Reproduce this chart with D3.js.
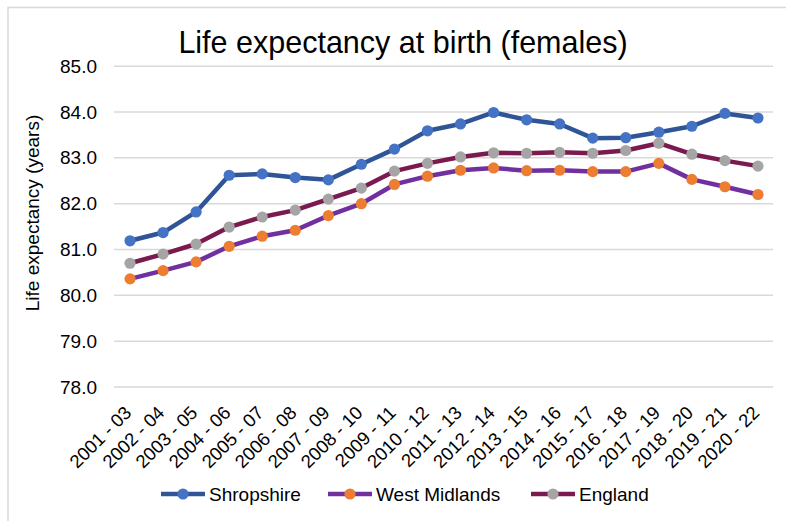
<!DOCTYPE html>
<html>
<head>
<meta charset="utf-8">
<script src="https://cdn.jsdelivr.net/npm/d3@7"></script>
<style>
  html, body { margin: 0; padding: 0; background: #fff; }
  svg { display: block; font-family: "Liberation Sans", Arial, sans-serif; }
</style>
</head>
<body>
<svg id="chart" width="790" height="521"></svg>
<script>
// Three-year rolling periods
const periods = ["2001 - 03", "2002 - 04", "2003 - 05", "2004 - 06", "2005 - 07",
  "2006 - 08", "2007 - 09", "2008 - 10", "2009 - 11", "2010 - 12", "2011 - 13",
  "2012 - 14", "2013 - 15", "2014 - 16", "2015 - 17", "2016 - 18", "2017 - 19",
  "2018 - 20", "2019 - 21", "2020 - 22"];

// Female life expectancy at birth (years)
const shropshire = [81.19, 81.37, 81.82, 82.62, 82.65, 82.57, 82.52, 82.86, 83.19, 83.59,
  83.74, 83.99, 83.83, 83.74, 83.43, 83.44, 83.56, 83.69, 83.97, 83.87];
const westMidlands = [80.36, 80.54, 80.73, 81.07, 81.29, 81.42, 81.74, 82.00, 82.42, 82.60,
  82.73, 82.78, 82.72, 82.73, 82.70, 82.70, 82.88, 82.53, 82.37, 82.20];
const england = [80.70, 80.90, 81.12, 81.49, 81.71, 81.86, 82.10, 82.34, 82.71, 82.88,
  83.02, 83.11, 83.10, 83.12, 83.10, 83.16, 83.32, 83.08, 82.94, 82.82];

const yTicks = [78, 79, 80, 81, 82, 83, 84, 85];

const seriesNames = ["Shropshire", "West Midlands", "England"];
const lineColors = ["#2F5597", "#7030A0", "#7A1A4E"];
const markerColors = ["#4472C4", "#ED7D31", "#A5A5A5"];

const series = [shropshire, westMidlands, england].map((values, i) => ({
  name: seriesNames[i], values, line: lineColors[i], marker: markerColors[i]
}));

const svg = d3.select("#chart");
const font = "\"Liberation Sans\", Arial, sans-serif";
const labelSize = 19;

// Chart frame (left and top edges)
svg.append("path")
  .attr("d", "M8,521 V7.5 H786")
  .attr("fill", "none")
  .attr("stroke", "#D9D9D9")
  .attr("stroke-width", 1.5);

const x = d3.scaleBand().domain(periods).range([113.5, 774.5]);
const y = d3.scaleLinear().domain([78, 85]).range([387, 66.2]);
const cx = d => x(d) + x.bandwidth() / 2;

// Horizontal gridlines
svg.append("g").selectAll("line").data(yTicks).join("line")
  .attr("x1", 114).attr("x2", 773)
  .attr("y1", d => y(d)).attr("y2", d => y(d))
  .attr("stroke", "#D9D9D9").attr("stroke-width", 1.5);

// Y axis labels
const yAxis = d3.axisLeft(y).tickValues(yTicks).tickFormat(d3.format(".1f"))
  .tickSize(0).tickPadding(0);
const gy = svg.append("g").attr("transform", "translate(97,0)").call(yAxis);
gy.select(".domain").remove();
gy.selectAll("text").attr("font-size", labelSize).attr("font-family", font).attr("fill", "#000");

// X axis labels, rotated 45 degrees and ending just right of each tick
const xAxis = d3.axisBottom(x).tickSize(0).tickPadding(0);
const gx = svg.append("g").attr("transform", "translate(0,414)").call(xAxis);
gx.select(".domain").remove();
gx.selectAll("text")
  .attr("font-size", 18.5).attr("font-family", font).attr("fill", "#000")
  .attr("text-anchor", "end")
  .attr("y", 0).attr("dy", 0)
  .attr("transform", "translate(2.5,0) rotate(-45)");

// Lines and markers
const line = d3.line().x((d, i) => cx(periods[i])).y(d => y(d));
series.forEach(s => {
  const g = svg.append("g");
  g.append("path")
    .attr("d", line(s.values))
    .attr("fill", "none")
    .attr("stroke", s.line)
    .attr("stroke-width", 4.5)
    .attr("stroke-linejoin", "round")
    .attr("stroke-linecap", "round");
  g.selectAll("circle").data(s.values).join("circle")
    .attr("cx", (d, i) => cx(periods[i]))
    .attr("cy", d => y(d))
    .attr("r", 5.6)
    .attr("fill", s.marker);
});

// Title
svg.append("text")
  .attr("x", 403).attr("y", 53)
  .attr("text-anchor", "middle")
  .attr("font-size", 30.5).attr("font-family", font).attr("fill", "#000")
  .text("Life expectancy at birth (females)");

// Y axis title
svg.append("text")
  .attr("transform", "translate(39,213) rotate(-90)")
  .attr("text-anchor", "middle")
  .attr("font-size", labelSize).attr("font-family", font).attr("fill", "#000")
  .text("Life expectancy (years)");

// Legend
const legendX = [161, 328, 531];
const lg = svg.append("g").selectAll("g").data(series).join("g")
  .attr("transform", (d, i) => `translate(${legendX[i]},494)`);
lg.append("line")
  .attr("x1", 0).attr("x2", 44).attr("y1", 0).attr("y2", 0)
  .attr("stroke", d => d.line).attr("stroke-width", 4.5);
lg.append("circle").attr("cx", 22).attr("cy", 0).attr("r", 5.6)
  .attr("fill", d => d.marker);
lg.append("text")
  .attr("x", 48).attr("y", 0).attr("dy", "0.35em")
  .attr("font-size", labelSize).attr("font-family", font).attr("fill", "#000")
  .text(d => d.name);
</script>
</body>
</html>
